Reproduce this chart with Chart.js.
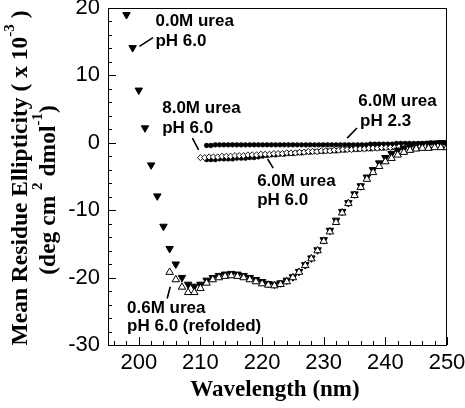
<!DOCTYPE html>
<html><head><meta charset="utf-8">
<script src="https://cdn.jsdelivr.net/npm/chart.js@4/dist/chart.umd.min.js"></script>
<style>html,body{margin:0;padding:0;background:#fff}</style>
</head><body>
<canvas id="c" width="465" height="408"></canvas>
<script>
// ---- data ----
// 0.0M urea, pH 6.0 (filled down triangles)
const wlNative = [198,199,200,201,202,203,204,205,206,207,208,209,210,211,212,213,214,215,216,217,218,219,220,221,222,223,224,225,226,227,228,229,230,231,232,233,234,235,236,237,238,239,240,241,242,243,244,245,246,247,248,249,250];
const ellipNative = [19.0,14.1,7.8,2.2,-3.3,-7.9,-12.4,-15.7,-18.0,-20.0,-21.0,-21.3,-21.0,-20.4,-20.0,-19.7,-19.5,-19.4,-19.5,-19.7,-20.0,-20.3,-20.6,-20.9,-21.0,-20.8,-20.4,-19.9,-19.1,-18.1,-17.1,-15.9,-14.4,-13.0,-11.5,-10.2,-8.9,-7.6,-6.4,-5.1,-4.0,-3.0,-2.2,-1.6,-1.1,-0.8,-0.5,-0.3,-0.2,-0.1,-0.1,0.0,0.0];
// 0.6M urea, pH 6.0 refolded (open up triangles)
const wlRefold = [205,206,207,208,209,210,211,212,213,214,215,216,217,218,219,220,221,222,223,224,225,226,227,228,229,230,231,232,233,234,235,236,237,238,239,240,241,242,243,244,245,246,247,248,249,250];
const ellipRefold = [-19.2,-20.3,-21.4,-22.2,-22.2,-21.6,-20.8,-20.3,-20.0,-19.8,-19.7,-19.8,-20.0,-20.3,-20.6,-20.9,-21.1,-21.2,-21.0,-20.6,-20.0,-19.2,-18.2,-17.2,-16.0,-14.6,-13.2,-11.8,-10.4,-9.0,-7.8,-6.6,-5.4,-4.4,-3.5,-2.8,-2.3,-1.8,-1.4,-1.1,-0.9,-0.8,-0.8,-0.7,-0.7,-0.7];
// 6.0M urea, pH 2.3 (filled circles)
const wlAcid = [211.0,211.7,212.4,213.1,213.8,214.5,215.2,215.9,216.6,217.3,218.0,218.7,219.4,220.1,220.8,221.5,222.2,222.9,223.6,224.3,225.0,225.7,226.4,227.1,227.8,228.5,229.2,229.9,230.6,231.3,232.0,232.7,233.4,234.1,234.8,235.5,236.2,236.9,237.6,238.3,239.0,239.7,240.4,241.1,241.8,242.5,243.2,243.9,244.6,245.3,246.0,246.7,247.4,248.1,248.8,249.5];
const ellipAcid = [-0.4,-0.4,-0.3,-0.3,-0.3,-0.3,-0.3,-0.3,-0.3,-0.3,-0.3,-0.3,-0.3,-0.3,-0.3,-0.3,-0.3,-0.3,-0.3,-0.3,-0.3,-0.3,-0.3,-0.3,-0.3,-0.3,-0.3,-0.3,-0.3,-0.3,-0.3,-0.3,-0.3,-0.3,-0.3,-0.3,-0.3,-0.3,-0.2,-0.2,-0.2,-0.2,-0.2,-0.2,-0.1,-0.1,-0.1,-0.1,-0.1,-0.1,-0.1,-0.1,0.0,0.0,0.0,0.0];
// 8.0M urea, pH 6.0 (open diamonds)
const wlUrea8 = [210.0,210.7,211.4,212.1,212.8,213.5,214.2,214.9,215.6,216.3,217.0,217.7,218.4,219.1,219.8,220.5,221.2,221.9,222.6,223.3,224.0,224.7,225.4,226.1,226.8,227.5,228.2,228.9,229.6,230.3,231.0,231.7,232.4,233.1,233.8,234.5,235.2,235.9,236.6,237.3,238.0,238.7,239.4,240.1,240.8,241.5,242.2,242.9,243.6,244.3,245.0,245.7,246.4,247.1,247.8,248.5,249.2,249.9];
const ellipUrea8 = [-2.2,-2.2,-2.1,-2.1,-2.1,-2.0,-2.0,-2.0,-1.9,-1.9,-1.9,-1.8,-1.8,-1.8,-1.7,-1.7,-1.7,-1.6,-1.6,-1.6,-1.5,-1.5,-1.5,-1.4,-1.4,-1.3,-1.3,-1.3,-1.2,-1.2,-1.2,-1.1,-1.1,-1.0,-1.0,-1.0,-0.9,-0.9,-0.9,-0.8,-0.8,-0.8,-0.7,-0.7,-0.7,-0.7,-0.6,-0.6,-0.6,-0.6,-0.6,-0.5,-0.5,-0.5,-0.5,-0.5,-0.5,-0.5];
// 6.0M urea, pH 6.0 (filled circles, mostly under the diamonds)
const wlUrea6 = [211.0,211.7,212.4,213.1,213.8,214.5,215.2,215.9,216.6,217.3,218.0,218.7,219.4,220.1,220.8,221.5,222.2,222.9,223.6,224.3,225.0,225.7,226.4,227.1,227.8,228.5,229.2,229.9,230.6,231.3,232.0,232.7,233.4,234.1,234.8,235.5,236.2,236.9,237.6,238.3,239.0,239.7,240.4,241.1,241.8,242.5,243.2,243.9,244.6,245.3,246.0,246.7,247.4,248.1,248.8,249.5];
const ellipUrea6 = [-2.5,-2.5,-2.5,-2.4,-2.4,-2.4,-2.4,-2.3,-2.3,-2.3,-2.2,-2.2,-2.1,-2.0,-1.9,-1.8,-1.8,-1.7,-1.7,-1.6,-1.6,-1.5,-1.5,-1.4,-1.4,-1.3,-1.3,-1.3,-1.2,-1.2,-1.2,-1.1,-1.1,-1.0,-1.0,-1.0,-0.9,-0.9,-0.9,-0.8,-0.8,-0.8,-0.7,-0.7,-0.7,-0.7,-0.6,-0.6,-0.6,-0.6,-0.6,-0.5,-0.5,-0.5,-0.5,-0.5];

const xTickValues = [200,210,220,230,240,250];
const yTickValues = [-30,-20,-10,0,10,20];

function pairs(xs, ys){ return xs.map((x,i)=>({x:x, y:ys[i]})); }

// annotation texts, anchored in data units
const notes = [
  {t:'0.0M urea', x:202.7, y:18.0},
  {t:'pH 6.0', x:202.7, y:15.0},
  {t:'8.0M urea', x:203.8, y:5.05},
  {t:'pH 6.0', x:203.8, y:2.2},
  {t:'6.0M urea', x:235.6, y:6.2},
  {t:'pH 2.3', x:235.9, y:3.15},
  {t:'6.0M urea', x:219.2, y:-5.75},
  {t:'pH 6.0', x:219.2, y:-8.5},
  {t:'0.6M urea', x:198.1, y:-24.6},
  {t:'pH 6.0 (refolded)', x:198.1, y:-27.3}
];
const leaders = [
  [200.1,14.3,202.3,15.6],
  [208.7,0.7,209.7,-1.04],
  [233.8,0.7,235.4,2.2],
  [220.9,-2.4,221.8,-3.76],
  [204.6,-23.1,205.1,-21.35]
];

const decor = {
  id:'decor',
  afterDraw(chart){
    const ctx = chart.ctx, a = chart.chartArea;
    const xs = chart.scales.x, ys = chart.scales.y;
    ctx.save();
    // frame
    ctx.strokeStyle = '#000'; ctx.lineWidth = 1;
    ctx.strokeRect(Math.round(a.left)+0.5, Math.round(a.top)+0.5, Math.round(a.right-a.left)-1, Math.round(a.bottom-a.top));
    // ticks (inside, left and bottom)
    ctx.beginPath();
    for (let v=196; v<=250; v+=2){
      const px = Math.round(xs.getPixelForValue(v))+0.5;
      const len = (v%10===0)?8:4;
      ctx.moveTo(px, a.bottom); ctx.lineTo(px, a.bottom-len);
    }
    for (let v=-30; v<=20; v+=2){
      const py = Math.round(ys.getPixelForValue(v))+0.5;
      const len = (v%10===0)?8:4;
      ctx.moveTo(a.left, py); ctx.lineTo(a.left+len, py);
    }
    ctx.stroke();
    // leaders
    ctx.lineWidth = 1.6;
    ctx.beginPath();
    leaders.forEach(l=>{
      ctx.moveTo(xs.getPixelForValue(l[0]), ys.getPixelForValue(l[1]));
      ctx.lineTo(xs.getPixelForValue(l[2]), ys.getPixelForValue(l[3]));
    });
    ctx.stroke();
    // notes
    ctx.fillStyle = '#000';
    ctx.font = 'bold 17px "Liberation Sans", Arial, sans-serif';
    ctx.textBaseline = 'middle'; ctx.textAlign = 'left';
    notes.forEach(n=>ctx.fillText(n.t, xs.getPixelForValue(n.x), ys.getPixelForValue(n.y)));
    // x title
    ctx.font = 'bold 23px "Liberation Serif", "Times New Roman", serif';
    ctx.textAlign = 'center';
    ctx.fillText('Wavelength (nm)', 275, 390);
    // y title with superscripts
    function drawRich(parts, cx, cy, size){
      ctx.save();
      ctx.translate(cx, cy); ctx.rotate(-Math.PI/2);
      const big = 'bold '+size+'px "Liberation Serif", "Times New Roman", serif';
      const small = 'bold '+Math.round(size*0.62)+'px "Liberation Serif", "Times New Roman", serif';
      let w = 0;
      parts.forEach(p=>{ ctx.font = p.sup?small:big; w += ctx.measureText(p.s).width; });
      let x = -w/2;
      ctx.textAlign = 'left'; ctx.textBaseline = 'alphabetic';
      parts.forEach(p=>{
        ctx.font = p.sup?small:big;
        ctx.fillText(p.s, x, p.sup ? size*0.35 - size*0.55 : size*0.35);
        x += ctx.measureText(p.s).width;
      });
      ctx.restore();
    }
    drawRich([{s:'Mean Residue Ellipticity ( x 10'},{s:'-3',sup:1},{s:' )'}], 19, 178, 23.5);
    drawRich([{s:'(deg cm '},{s:'2',sup:1},{s:' dmol'},{s:'-1',sup:1},{s:')'}], 47, 190, 23.5);
    ctx.restore();
  }
};

new Chart(document.getElementById('c'), {
  type:'scatter',
  data:{ datasets:[
    {label:'0.6M urea pH 6.0 (refolded)', data:pairs(wlRefold, ellipRefold), pointStyle:'triangle', pointRadius:4.3, backgroundColor:'#fff', borderColor:'#000', borderWidth:1},
    {label:'0.0M urea pH 6.0', data:pairs(wlNative, ellipNative), pointStyle:'triangle', rotation:180, pointRadius:4.3, backgroundColor:'#000', borderColor:'#000', borderWidth:1},
    {label:'8.0M urea pH 6.0', data:pairs(wlUrea8, ellipUrea8), pointStyle:'rectRot', pointRadius:3.1, backgroundColor:'#fff', borderColor:'#000', borderWidth:0.9},
    {label:'6.0M urea pH 6.0', data:pairs(wlUrea6, ellipUrea6), pointStyle:'circle', pointRadius:2.3, backgroundColor:'#000', borderColor:'#000', borderWidth:0.5},
    {label:'6.0M urea pH 2.3', data:pairs(wlAcid, ellipAcid), pointStyle:'circle', pointRadius:2.4, backgroundColor:'#000', borderColor:'#000', borderWidth:0.5}
  ]},
  options:{
    responsive:false, animation:false, devicePixelRatio:1,
    layout:{padding:{top:8, right:18, left:0, bottom:0}},
    plugins:{legend:{display:false}, tooltip:{enabled:false}},
    scales:{
      x:{type:'linear', min:195, max:250,
        grid:{display:false, drawTicks:false}, border:{display:false},
        ticks:{color:'#000', padding:5, font:{family:'"Liberation Sans", Arial, sans-serif', size:22}},
        afterBuildTicks(s){ s.ticks = xTickValues.map(v=>({value:v})); },
        afterFit(s){ s.height = 63; s.paddingLeft = 0; s.paddingRight = 0; }
      },
      y:{type:'linear', min:-30, max:20,
        grid:{display:false, drawTicks:false}, border:{display:false},
        ticks:{color:'#000', padding:8, font:{family:'"Liberation Sans", Arial, sans-serif', size:22}},
        afterBuildTicks(s){ s.ticks = yTickValues.map(v=>({value:v})); },
        afterFit(s){ s.width = 108; s.paddingTop = 0; s.paddingBottom = 0; }
      }
    }
  },
  plugins:[decor]
});
</script>
</body></html>
